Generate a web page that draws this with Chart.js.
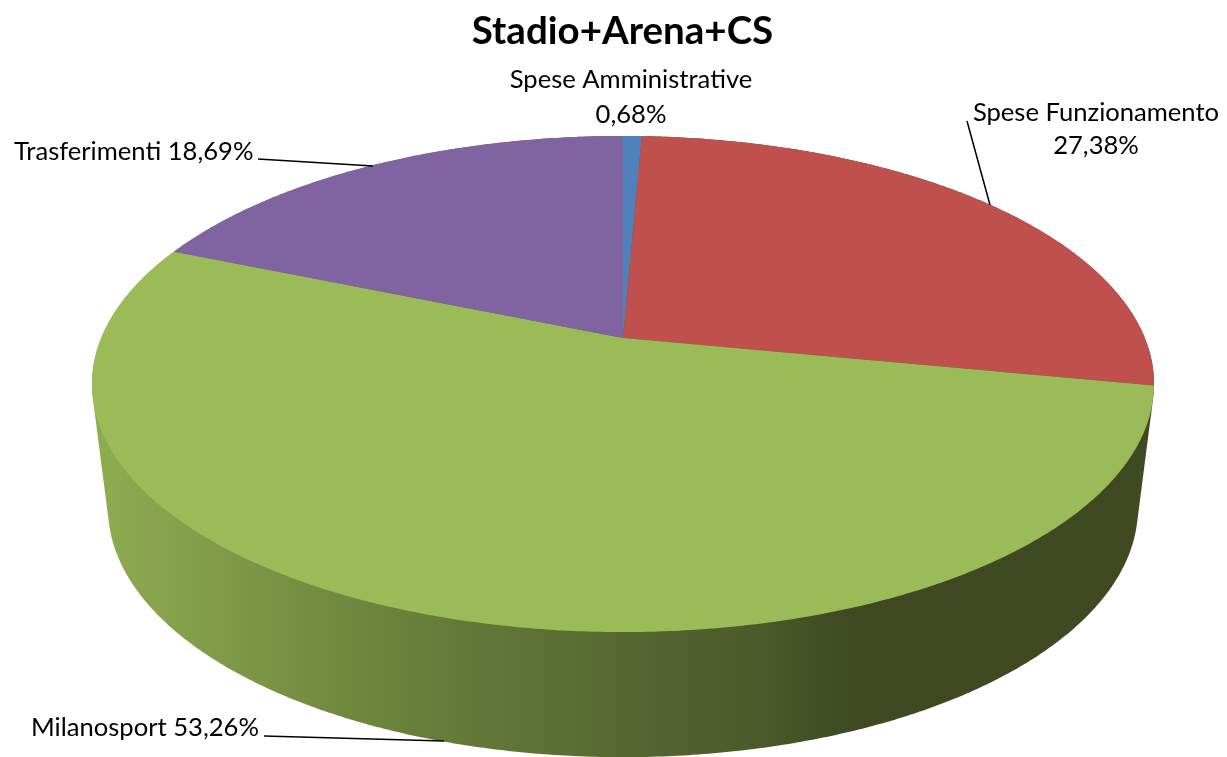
<!DOCTYPE html>
<html>
<head>
<meta charset="utf-8">
<style>
  html, body { margin: 0; padding: 0; background: #fff; overflow: hidden; }
  #wrap { width: 1227px; height: 757px; }
</style>
<script src="https://cdn.jsdelivr.net/npm/chart.js@4"></script>
</head>
<body>
<div id="wrap"><canvas id="myChart" width="1227" height="757"></canvas></div>
<script>
const chartTitle = "Stadio+Arena+CS";
const categories = ["Spese Amministrative", "Spese Funzionamento", "Milanosport", "Trasferimenti"];
const shares = [0.68, 27.38, 53.26, 18.69];
const sliceColors = ["#4F81BD", "#C0504D", "#9BBB59", "#8064A2"];

const labelFont = '400 25.6px Lato';
const percent = (v) => v.toFixed(2).replace(".", ",") + "%";

// perspective of the tilted disc, k is the foreshortening of the near/far side
const k = 0.1855;
const cx = 623;
const topRim = { a: 521.8, b: 239.5, y: 338 };
const lowRim = { a: 506, b: 240.4, y: 462 };

function project(theta, rim) {
  const u = Math.cos(theta), v = Math.sin(theta);
  const w = 1 - k * v;
  return { x: cx + rim.a * u / w, y: rim.y + rim.b * v / w };
}

function sideGradient(ctx) {
  const g = ctx.createLinearGradient(93, 0, 1155, 0);
  const stops = [[93, "#90AC50"], [300, "#768F42"], [440, "#667C3A"], [623, "#566830"], [760, "#4A5A2A"], [850, "#3F4A23"], [1155, "#3F4A23"]];
  stops.forEach((s) => g.addColorStop((s[0] - 93) / 1062, s[1]));
  return g;
}

// outline of the wall: hull of both rims, the top face covers the rest
function hull(points) {
  const pts = points.slice().sort((p, q) => p.x - q.x || p.y - q.y);
  const cross = (o, a, b) => (a.x - o.x) * (b.y - o.y) - (a.y - o.y) * (b.x - o.x);
  const half = (list) => {
    const out = [];
    list.forEach((p) => {
      while (out.length > 1 && cross(out[out.length - 2], out[out.length - 1], p) <= 0) out.pop();
      out.push(p);
    });
    out.pop();
    return out;
  };
  return half(pts).concat(half(pts.slice().reverse()));
}

// draws the arcs chart.js computed through the projection above, instead of flat
const pie3d = {
  id: "pie3d",
  beforeDatasetsDraw(chart) {
    const ctx = chart.ctx;
    const arcs = chart.getDatasetMeta(0).data;
    ctx.save();

    // wall
    const rimPoints = [];
    arcs.forEach((arc) => {
      const n = Math.ceil((arc.endAngle - arc.startAngle) * 120);
      for (let i = 0; i <= n; i++) {
        const t = arc.startAngle + (arc.endAngle - arc.startAngle) * i / n;
        rimPoints.push(project(t, topRim), project(t, lowRim));
      }
    });
    const outline = hull(rimPoints);
    ctx.beginPath();
    outline.forEach((p, i) => (i ? ctx.lineTo(p.x, p.y) : ctx.moveTo(p.x, p.y)));
    ctx.closePath();
    ctx.fillStyle = sideGradient(ctx);
    ctx.fill();

    // top face
    arcs.forEach((arc, i) => {
      const n = Math.max(8, Math.ceil((arc.endAngle - arc.startAngle) * 120));
      ctx.beginPath();
      ctx.moveTo(cx, topRim.y);
      for (let j = 0; j <= n; j++) {
        const p = project(arc.startAngle + (arc.endAngle - arc.startAngle) * j / n, topRim);
        ctx.lineTo(p.x, p.y);
      }
      ctx.closePath();
      ctx.fillStyle = sliceColors[i];
      ctx.fill();
    });
    ctx.restore();
    return false;
  },
  afterDraw(chart) {
    const ctx = chart.ctx;
    ctx.save();
    ctx.strokeStyle = "#000";
    ctx.lineWidth = 1.5;
    [[258, 159, 373, 166], [967, 121, 990, 205], [264, 736, 444, 741]].forEach((l) => {
      ctx.beginPath();
      ctx.moveTo(l[0], l[1]);
      ctx.lineTo(l[2], l[3]);
      ctx.stroke();
    });

    ctx.fillStyle = "#000";
    ctx.font = labelFont;
    ctx.textBaseline = "alphabetic";
    ctx.textAlign = "center";
    ctx.fillText(categories[0], 631, 88);
    ctx.fillText(percent(shares[0]), 631, 123);
    ctx.fillText(categories[1], 1096, 121);
    ctx.fillText(percent(shares[1]), 1096, 154);
    ctx.textAlign = "left";
    ctx.fillText(categories[3] + " " + percent(shares[3]), 14, 160);
    ctx.fillText(categories[2] + " " + percent(shares[2]), 31, 736);
    ctx.restore();
  },
};

new Chart(document.getElementById("myChart"), {
  type: "pie",
  data: {
    labels: categories,
    datasets: [{ data: shares, backgroundColor: sliceColors, borderWidth: 0 }],
  },
  options: {
    responsive: false,
    animation: false,
    layout: { padding: { left: 18 } },
    plugins: {
      legend: { display: false },
      tooltip: { enabled: false },
      title: {
        display: true,
        text: chartTitle,
        color: "#000",
        font: { family: "Lato", size: 38.5, weight: "bold" },
        padding: { top: 8, bottom: 10 },
      },
    },
  },
  plugins: [pie3d],
});
</script>
</body>
</html>
